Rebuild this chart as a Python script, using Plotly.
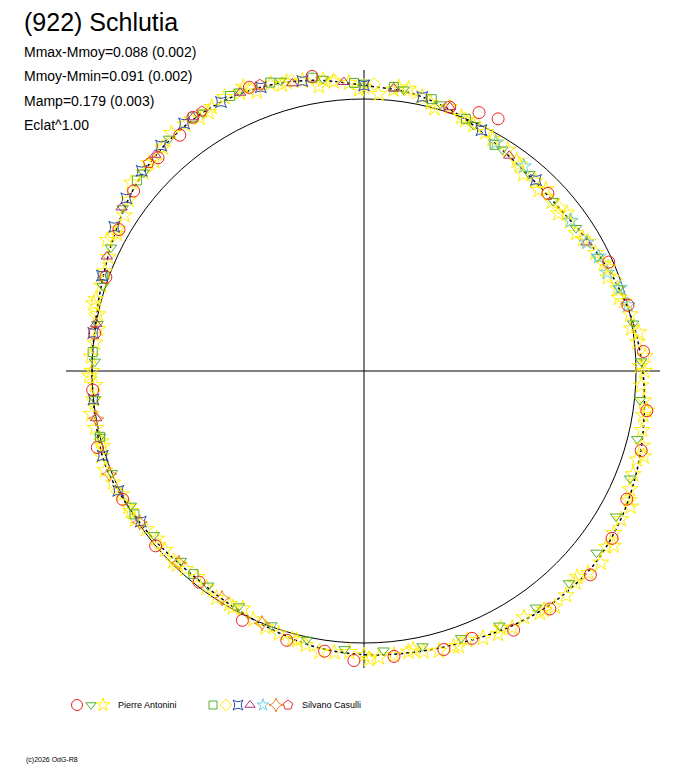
import plotly.graph_objects as go
import numpy as np

# light curve folded on a circle: angle (deg, counter-clockwise from +x) and relative radius (1 = mean)
fit_ang = [0, 10, 20, 30, 40, 50, 60, 70, 80, 90, 100, 110, 120, 130, 140, 150, 160, 170,
           180, 190, 200, 210, 220, 230, 240, 250, 260, 270, 280, 290, 300, 310, 320, 330, 340, 350, 360]
fit_r = [1.025, 1.005, 0.98, 0.952, 0.935, 0.94, 0.965, 1.005, 1.035, 1.05, 1.085, 1.11, 1.12, 1.11, 1.085,
         1.05, 1.02, 1.003, 1.0, 1.003, 1.012, 1.0, 0.988, 0.98, 0.99, 1.008, 1.03, 1.043, 1.05, 1.062,
         1.083, 1.10, 1.105, 1.09, 1.068, 1.045, 1.025]

pa_star_ang = [0, 6, 12, 18, 24, 30, 36, 42, 48, 54, 60, 66, 72, 78, 84, 90, 96, 102, 108, 114, 120,
               126, 132, 138, 144, 150, 156, 162, 168, 174, 180, 186, 192, 198, 204, 210, 216, 222, 228,
               234, 240, 246, 252, 258, 264, 270, 276, 282, 288, 294, 300, 306, 312, 318, 324, 330, 336,
               342, 348, 354,
               3, 9, 15, 21, 27, 33, 39, 45, 51, 57, 63, 69, 75, 81, 87, 93, 99, 105, 111, 117, 123,
               129, 135, 141, 147, 153, 159, 165, 171, 177, 183, 189, 195, 201, 207, 213, 219, 225, 231,
               237, 243, 249, 255, 261, 267, 273, 279, 285, 291, 297, 303, 309, 315, 321, 327, 333, 339,
               345, 351, 357,
               1, 8, 16, 23, 31, 38, 46, 53, 61, 68, 76, 83, 91, 98, 106, 113, 121, 136, 151, 166, 181,
               196, 211, 226, 241, 256, 271, 280, 289, 298, 307, 316, 325, 334, 343, 352]
pa_star_r = [1.03, 1.01, 1.0, 0.98, 0.965, 0.95, 0.935, 0.93, 0.94, 0.955, 0.97, 0.99, 1.02, 1.03, 1.04,
             1.045, 1.07, 1.09, 1.11, 1.12, 1.12, 1.12, 1.105, 1.09, 1.07, 1.045, 1.03, 1.015, 1.0, 0.995,
             1.0, 1.0, 1.01, 1.015, 1.01, 1.0, 0.99, 0.985, 0.98, 0.985, 0.99, 1.0, 1.015, 1.03, 1.04,
             1.045, 1.05, 1.055, 1.065, 1.075, 1.09, 1.10, 1.11, 1.11, 1.10, 1.09, 1.07, 1.055, 1.045, 1.035,
             1.035, 0.995, 0.99, 0.96, 0.955, 0.93, 0.92, 0.945, 0.93, 0.97, 0.985, 1.0, 1.0, 1.05, 1.02,
             1.06, 1.06, 1.1, 1.10, 1.13, 1.11, 1.125, 1.09, 1.1, 1.05, 1.06, 1.02, 1.02, 0.99, 1.005,
             0.99, 1.015, 1.0, 1.02, 1.0, 1.005, 0.98, 0.99, 0.975, 0.995, 0.98, 1.01, 1.02, 1.045, 1.035,
             1.055, 1.045, 1.065, 1.06, 1.085, 1.08, 1.115, 1.10, 1.12, 1.095, 1.10, 1.06, 1.06, 1.04, 1.02,
             1.015, 1.02, 0.975, 0.975, 0.94, 0.945, 0.925, 0.95, 0.975, 0.995, 1.015, 1.05, 1.035, 1.08,
             1.095, 1.135, 1.11, 1.10, 1.04, 1.025, 1.01, 1.0, 1.0, 0.99, 0.995, 1.02, 1.06, 1.04, 1.07,
             1.07, 1.10, 1.09, 1.12, 1.085, 1.075, 1.05]

pa_tri_ang = [2, 10, 18, 26, 34, 42, 50, 58, 66, 74, 82, 90, 98, 106, 114, 122, 130, 138, 146, 154, 162,
              170, 178, 186, 194, 202, 210, 218, 226, 234, 242, 250, 258, 266, 274, 282, 290, 298, 306,
              314, 322, 330, 338, 346, 354]
pa_tri_r = [1.02, 1.005, 0.985, 0.955, 0.94, 0.935, 0.945, 0.96, 0.99, 1.02, 1.045, 1.06, 1.085, 1.11,
            1.125, 1.12, 1.115, 1.09, 1.07, 1.035, 1.01, 0.995, 0.99, 0.995, 1.0, 1.0, 0.99, 0.98, 0.97,
            0.975, 0.98, 0.995, 1.01, 1.025, 1.03, 1.035, 1.045, 1.06, 1.075, 1.085, 1.085, 1.07, 1.055,
            1.035, 1.02]

pa_circ_ang = [4, 14, 24, 44, 62, 66, 72, 100, 112, 124, 128, 134, 142, 150, 160, 172, 184, 196, 208,
               220, 232, 244, 254, 262, 268, 276, 286, 292, 300, 308, 318, 326, 334, 344, 352]
pa_circ_r = [1.03, 1.0, 0.985, 0.94, 1.05, 1.04, 1.02, 1.1, 1.125, 1.125, 1.10, 1.09, 1.075, 1.04, 1.01,
             1.0, 1.0, 1.02, 1.005, 1.0, 0.985, 1.02, 1.03, 1.04, 1.065, 1.055, 1.065, 1.06, 1.10, 1.11,
             1.12, 1.10, 1.075, 1.06, 1.05]

sc_square_ang = [60, 68, 76, 84, 92, 100, 108, 116, 124, 140, 160, 176, 194, 212, 230]
sc_square_r = [0.96, 1.0, 1.03, 1.05, 1.06, 1.095, 1.115, 1.125, 1.125, 1.09, 1.02, 1.0, 1.0, 0.995, 0.975]
sc_diam_ang = [20, 40, 66, 80, 88, 96, 104, 112, 132, 152, 168, 186, 206, 220]
sc_diam_r = [0.985, 0.935, 1.0, 1.04, 1.055, 1.075, 1.10, 1.12, 1.11, 1.05, 1.01, 1.0, 1.01, 0.99]
sc_cross_ang = [48, 64, 78, 90, 102, 110, 118, 126, 132, 138, 144, 150, 160, 172, 186, 198, 206, 214]
sc_cross_r = [0.945, 0.985, 1.03, 1.05, 1.09, 1.11, 1.12, 1.125, 1.115, 1.10, 1.08, 1.06, 1.025, 1.005,
              1.0, 1.01, 1.005, 0.99]
sc_tri_ang = [30, 56, 72, 84, 94, 104, 114, 124, 134, 146, 156, 170, 190]
sc_tri_r = [0.945, 0.955, 1.02, 1.045, 1.065, 1.09, 1.12, 1.125, 1.105, 1.075, 1.035, 1.0, 1.0]
sc_star_ang = [14, 18, 22, 26, 30, 36, 52, 60]
sc_star_r = [1.0, 0.99, 0.965, 0.96, 0.945, 0.94, 0.955, 0.97]
sc_spark_ang = [190, 202, 214, 226, 238, 248]
sc_spark_r = [1.0, 1.01, 0.995, 0.98, 0.985, 1.0]
sc_pent_ang = [110, 122, 136]
sc_pent_r = [1.12, 1.125, 1.10]

series = [
    (pa_star_ang, pa_star_r, "star-open", "#ffee00", 12),
    (pa_tri_ang, pa_tri_r, "triangle-down-open", "#55b030", 10),
    (sc_square_ang, sc_square_r, "square-open", "#55b030", 9),
    (sc_diam_ang, sc_diam_r, "diamond-open", "#ffee00", 10),
    (sc_cross_ang, sc_cross_r, "star-square-open", "#2b4aa8", 10),
    (sc_tri_ang, sc_tri_r, "triangle-up-open", "#b0307a", 10),
    (sc_star_ang, sc_star_r, "star-open", "#6ccde0", 11),
    (sc_spark_ang, sc_spark_r, "star-diamond-open", "#f08020", 11),
    (sc_pent_ang, sc_pent_r, "pentagon-open", "#e83030", 11),
    (pa_circ_ang, pa_circ_r, "circle-open", "#ee2020", 12),
]

S = 272.0  # pixels per unit
W, H = 688, 768
OFF = 8  # page margin of the html body
cx, cy = 364 - OFF, 371 - OFF


def px(x, y):
    return (x - OFF - cx) / S, (cy - (y - OFF)) / S


fig = go.Figure()

fa = np.radians(fit_ang)
fig.add_trace(go.Scatter(x=np.array(fit_r) * np.cos(fa), y=np.array(fit_r) * np.sin(fa),
                         mode="lines", line=dict(color="black", width=1.5, dash="dot", shape="spline")))

for ang, r, sym, col, size in series:
    a = np.radians(ang)
    fig.add_trace(go.Scatter(x=np.array(r) * np.cos(a), y=np.array(r) * np.sin(a), mode="markers",
                             marker=dict(symbol=sym, color=col, size=size, line=dict(width=1))))

# reference circle and cross
fig.add_shape(type="circle", x0=-1, y0=-1, x1=1, y1=1, line=dict(color="black", width=1), layer="below")
x0, _ = px(66, 0); x1, _ = px(660, 0)
_, y0 = px(0, 70); _, y1 = px(0, 668)
fig.add_shape(type="line", x0=x0, x1=x1, y0=0, y1=0, line=dict(color="black", width=1), layer="below")
fig.add_shape(type="line", x0=0, x1=0, y0=y0, y1=y1, line=dict(color="black", width=1), layer="below")

# legend glyphs
leg = [(77, "circle-open", "#ee2020", 11), (91, "triangle-down-open", "#55b030", 9),
       (103, "star-open", "#ffee00", 10), (213, "square-open", "#55b030", 8),
       (226, "diamond-open", "#ffee00", 9), (238, "star-square-open", "#2b4aa8", 9),
       (250, "triangle-up-open", "#b0307a", 9), (263, "star-open", "#6ccde0", 9),
       (276, "star-diamond-open", "#f08020", 10), (288, "pentagon-open", "#e83030", 10)]
for lx, sym, col, size in leg:
    x, y = px(lx, 705)
    fig.add_trace(go.Scatter(x=[x], y=[y], mode="markers",
                             marker=dict(symbol=sym, color=col, size=size, line=dict(width=1))))

font = "Liberation Sans, Arial, sans-serif"
texts = [("(922) Schlutia", 22, 22, 25), ("Mmax-Mmoy=0.088 (0.002)", 22, 52, 14),
         ("Mmoy-Mmin=0.091 (0.002)", 22, 76, 14), ("Mamp=0.179 (0.003)", 22, 101, 14),
         ("Eclat^1.00", 22, 125, 14), ("Pierre Antonini", 116, 705, 9),
         ("Silvano Casulli", 300, 705, 9), ("(c)2026 OdG-R8", 24, 760, 7)]
for t, x, y, s in texts:
    fig.add_annotation(text=t, x=(x - OFF) / W, y=1 - (y - OFF) / H, xref="paper", yref="paper",
                       xanchor="left", yanchor="middle", showarrow=False,
                       font=dict(family=font, size=s, color="black"))

fig.update_layout(
    width=W, height=H, margin=dict(l=0, r=0, t=0, b=0),
    paper_bgcolor="white", plot_bgcolor="white", showlegend=False,
    xaxis=dict(range=[-cx / S, (W - cx) / S], visible=False, fixedrange=True),
    yaxis=dict(range=[-(H - cy) / S, cy / S], visible=False, fixedrange=True),
)

fig.write_html("out.html")
